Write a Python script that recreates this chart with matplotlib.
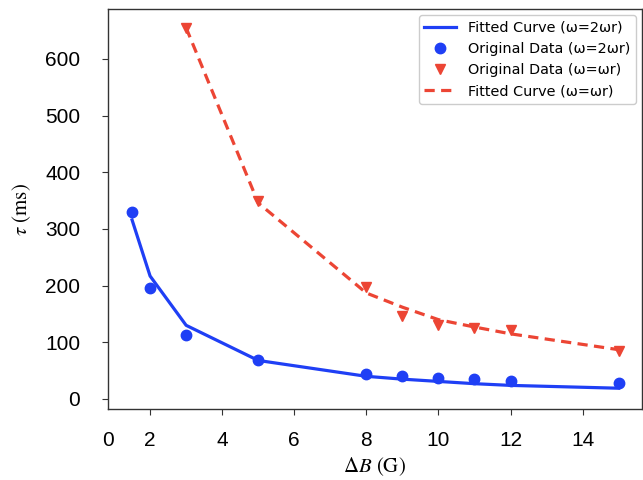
import matplotlib
matplotlib.use("Agg")
import matplotlib.pyplot as plt

b_2wr = [1.5, 2, 3, 5, 8, 9, 10, 11, 12, 15]
tau_2wr = [330, 196, 113, 69, 44, 40, 37, 35, 32, 28]
fit_2wr = [316, 217, 130, 68, 40, 35, 31, 27, 24, 19]

b_wr = [3, 5, 8, 9, 10, 11, 12, 15]
tau_wr = [655, 350, 197, 146, 131, 125, 122, 84]
fit_wr = [655, 346, 187, 162, 140, 127, 115, 87]

xticks = [2, 4, 6, 8, 10, 12, 14]
yticks = [0, 100, 200, 300, 400, 500, 600]

BLUE = "#1f3ff5"
RED = "#ec4534"

plt.rcParams["mathtext.fontset"] = "stix"

fig = plt.figure(figsize=(6.43, 4.80), dpi=100)
ax = fig.add_axes([0.168, 0.148, 0.830, 0.833])

ax.plot(b_2wr, fit_2wr, color=BLUE, lw=2.3, label="Fitted Curve (ω=2ωr)")
ax.plot(b_2wr, tau_2wr, "o", color=BLUE, ms=7.5, label="Original Data (ω=2ωr)")
ax.plot(b_wr, tau_wr, "v", color=RED, ms=7.5, label="Original Data (ω=ωr)")
ax.plot(b_wr, fit_wr, "--", color=RED, lw=2.3, dashes=(3.2, 2.0),
        label="Fitted Curve (ω=ωr)")

x0 = 0.833
ax.set_xlim(x0, 15.64)
ax.set_ylim(-17.6, 688)

# the reference has a "0" label sitting at the left spine, no tick mark
ax.set_xticks([x0] + xticks)
ax.set_xticklabels(["0"] + [str(t) for t in xticks])
ax.xaxis.get_major_ticks()[0].tick1line.set_visible(False)
ax.set_yticks(yticks)

for lab in ax.get_xticklabels() + ax.get_yticklabels():
    lab.set_fontfamily("Liberation Sans")
    lab.set_fontsize(15)
ax.tick_params(axis="x", length=4, pad=12, colors="#333333", labelcolor="black")
ax.tick_params(axis="y", length=4, pad=16, colors="#333333", labelcolor="black")

for s in ax.spines.values():
    s.set_color("#333333")
    s.set_linewidth(1.0)

ax.set_xlabel(r"$\Delta B$ (G)", fontfamily="STIXGeneral", fontsize=15, labelpad=4)
ax.set_ylabel(r"$\tau$ (ms)", fontfamily="STIXGeneral", fontsize=15, labelpad=9)

ax.legend(loc="upper right", fontsize=10.4, handlelength=2.2, labelspacing=0.5,
          borderaxespad=0.4, framealpha=1.0)

fig.savefig("out.png", dpi=100)
